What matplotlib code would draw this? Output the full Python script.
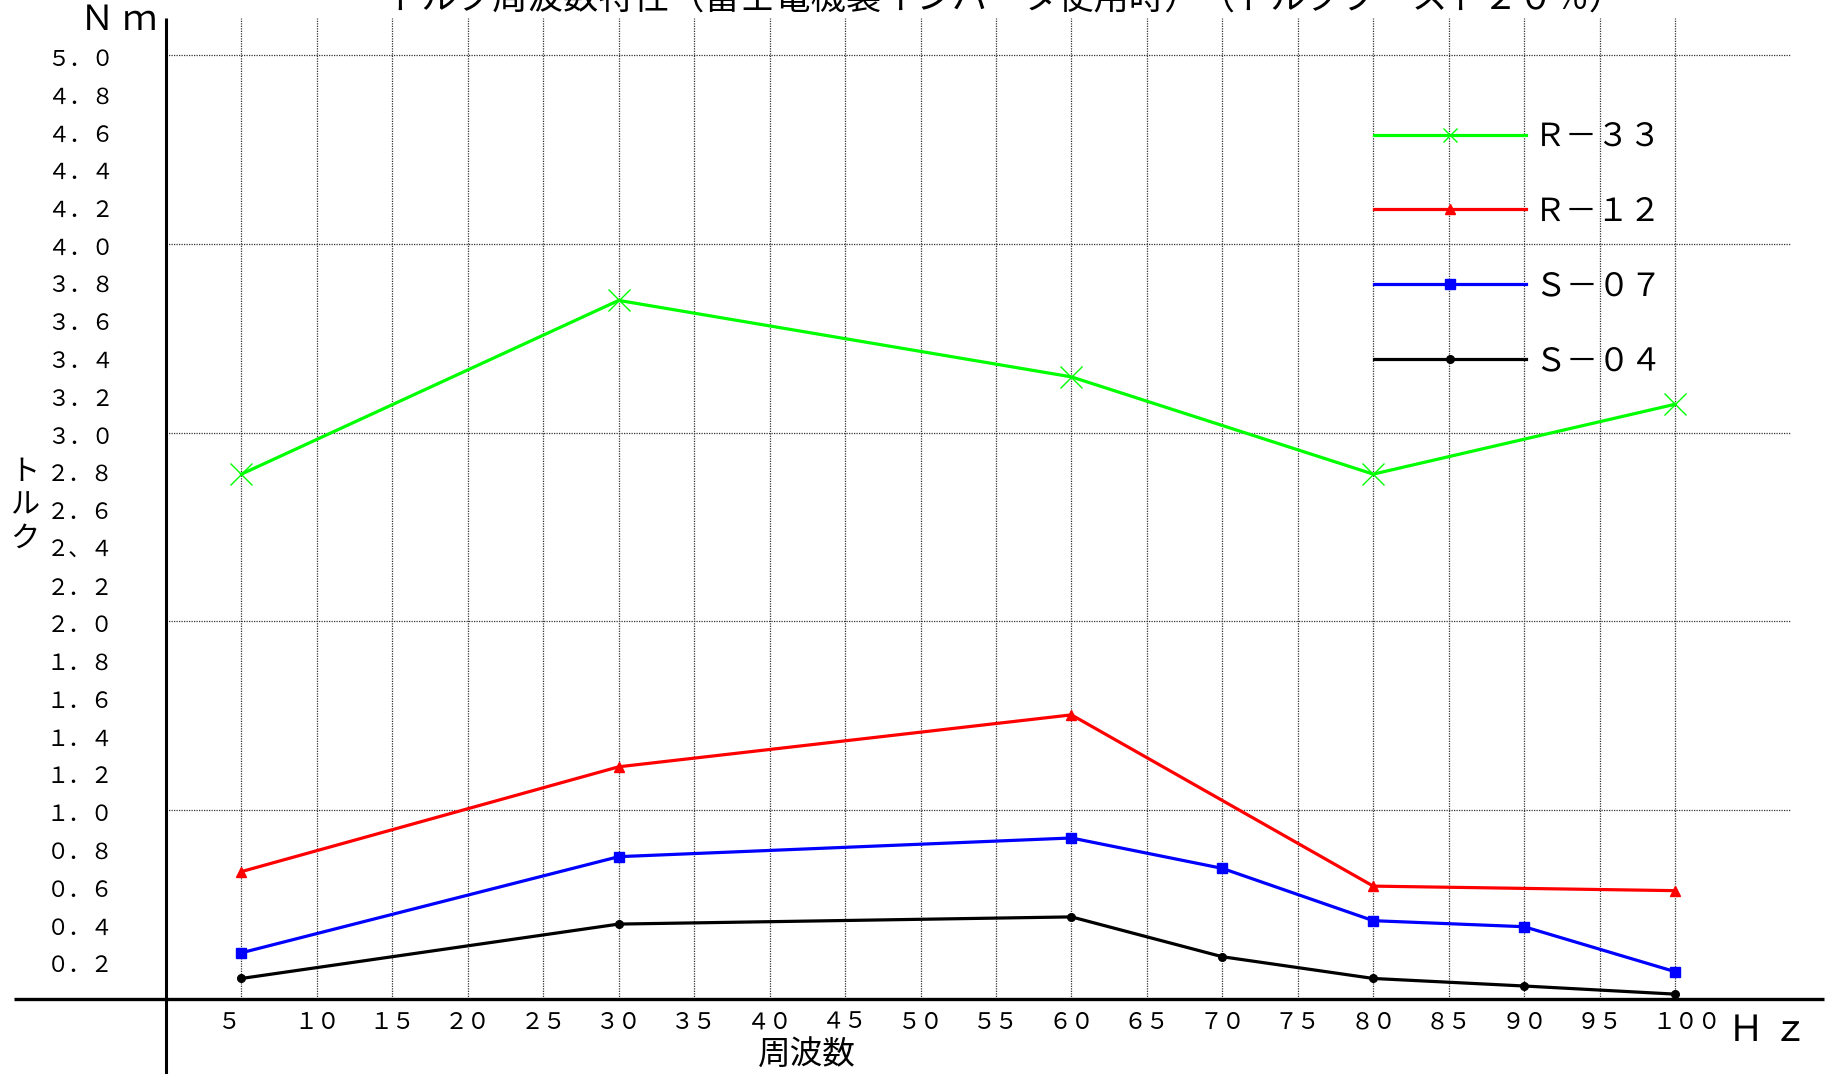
import matplotlib
matplotlib.use("Agg")
import matplotlib.pyplot as plt
import matplotlib.transforms as mtrans

plt.rcParams['font.family'] = ['Noto Sans CJK JP', 'DejaVu Sans']

# ---------------- data ----------------
title = "トルク周波数特性（富士電機製インバータ使用時）（トルクブースト２０％）"
x_label = "周波数"
x_unit = "Ｈ ｚ"
y_label = "ト\nル\nク"
y_unit = "Ｎ ｍ"

x_ticks = [5, 10, 15, 20, 25, 30, 35, 40, 45, 50, 55, 60, 65, 70, 75, 80, 85, 90, 95, 100]
x_tick_labels = ["５", "１０", "１５", "２０", "２５", "３０", "３５", "４０", "４５", "５０",
                 "５５", "６０", "６５", "７０", "７５", "８０", "８５", "９０", "９５", "１００"]
y_ticks = [5.0, 4.8, 4.6, 4.4, 4.2, 4.0, 3.8, 3.6, 3.4, 3.2, 3.0, 2.8, 2.6, 2.4, 2.2,
           2.0, 1.8, 1.6, 1.4, 1.2, 1.0, 0.8, 0.6, 0.4, 0.2]
y_tick_labels = ["５．０", "４．８", "４．６", "４．４", "４．２", "４．０", "３．８", "３．６",
                 "３．４", "３．２", "３．０", "２．８", "２．６", "２、４", "２．２", "２．０",
                 "１．８", "１．６", "１．４", "１．２", "１．０", "０．８", "０．６", "０．４", "０．２"]
y_grid = [1.0, 2.0, 3.0, 4.0, 5.0]

r33_x = [5, 30, 60, 80, 100]
r33_y = [2.78, 3.70, 3.295, 2.78, 3.15]
r12_x = [5, 30, 60, 80, 100]
r12_y = [0.675, 1.23, 1.505, 0.598, 0.574]
s07_x = [5, 30, 60, 70, 80, 90, 100]
s07_y = [0.245, 0.754, 0.853, 0.692, 0.415, 0.383, 0.145]
s04_x = [5, 30, 60, 70, 80, 90, 100]
s04_y = [0.109, 0.397, 0.435, 0.224, 0.109, 0.069, 0.026]

series_names = ["Ｒ－３３", "Ｒ－１２", "Ｓ－０７", "Ｓ－０４"]
series_colors = ["#00ff00", "#ff0000", "#0000ff", "#000000"]
series_markers = ["x", "^", "s", "o"]

# ---------------- layout ----------------
W, H = 1829, 1074
fig = plt.figure(figsize=(W / 100, H / 100), dpi=100)
ax = fig.add_axes([0, 0, 1, 1])
ax.set_xlim(-11.0, 110.2)
ax.set_ylim(-0.397, 5.291)
ax.axis('off')

GRID_TOP = 5.196
GRID_RIGHT = 107.6

# grid
ax.vlines(x_ticks, 0, GRID_TOP, colors="#333333", linewidths=0.9,
          linestyles=(0, (1, 1)), zorder=1)
ax.hlines(y_grid, 0, GRID_RIGHT, colors="#333333", linewidths=0.9,
          linestyles=(0, (1, 1)), zorder=1)

# axes lines
ax.hlines(0, -10.1, 109.9, colors="black", linewidths=2.4, zorder=2)
ax.vlines(0, -0.4, GRID_TOP, colors="black", linewidths=2.2, zorder=2)

# series
xs = [r33_x, r12_x, s07_x, s04_x]
ys = [r33_y, r12_y, s07_y, s04_y]
msizes = [16, 7.5, 6.5, 5.5]
handles = []
for x, y, c, m, ms, name in zip(xs, ys, series_colors, series_markers, msizes, series_names):
    ln, = ax.plot(x, y, color=c, lw=2.3, marker=m, markersize=ms,
                  markeredgewidth=1.0, markeredgecolor=c, markerfacecolor=c,
                  label=name, zorder=3, clip_on=False)
    handles.append(ln)

leg_fs = 23
leg_px = leg_fs * 100 / 72
leg = ax.legend(handles=handles, loc='center left',
                bbox_to_anchor=(1374 / W, 1 - 249 / H), bbox_transform=fig.transFigure,
                frameon=False, fontsize=leg_fs, borderpad=0, borderaxespad=0,
                handlelength=152 / leg_px, handletextpad=8 / leg_px,
                labelspacing=1.34, markerfirst=True)
leg.legend_handles[0].set_markersize(10)

# tick labels
xoff = mtrans.offset_copy(ax.transData, fig=fig, x=-23, y=-23, units='dots')
for xv, lab in zip(x_ticks, x_tick_labels):
    ax.text(xv, 0, lab, transform=xoff, ha='left', va='center', fontsize=16.5)

ytr = mtrans.blended_transform_factory(fig.transFigure, ax.transData)
yoff = mtrans.offset_copy(ytr, fig=fig, x=0, y=-4.5, units='dots')
for yv, lab in zip(y_ticks, y_tick_labels):
    ax.text(47 / W, yv, lab, transform=yoff, ha='left', va='center', fontsize=16)

# titles and axis labels
fig.text(1005 / W, 1 - (-2) / H, title, ha='center', va='center', fontsize=25.5)
fig.text(807 / W, 1 - 1056 / H, x_label, ha='center', va='center', fontsize=23.5)
fig.text(1768 / W, 1 - 1031 / H, x_unit, ha='center', va='center', fontsize=26)
fig.text(119 / W, 1 - 20 / H, y_unit, ha='center', va='center', fontsize=25)
fig.text(25 / W, 1 - 505 / H, y_label, ha='center', va='center', fontsize=21, linespacing=1.15)

fig.savefig("out.png", dpi=100)
